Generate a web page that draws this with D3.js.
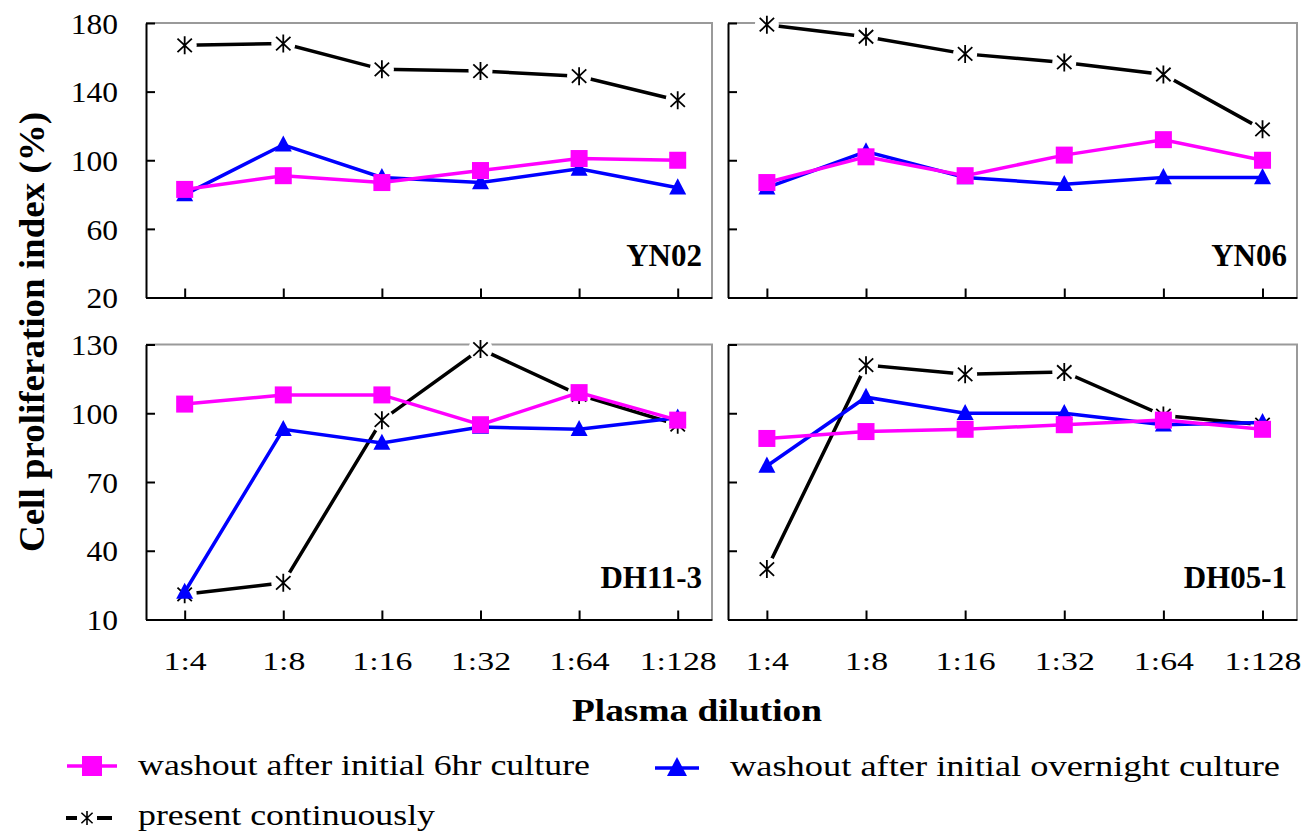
<!DOCTYPE html>
<html><head><meta charset="utf-8">
<script src="https://cdn.jsdelivr.net/npm/d3@7"></script>
<style>
body{margin:0;background:#fff}
svg text{font-family:"Liberation Serif","DejaVu Serif","Times New Roman",serif !important;}
</style>
</head><body>
<svg id="chart" width="1309" height="831"></svg>
<script>
// ---- data ----
const dilutions = ["1:4", "1:8", "1:16", "1:32", "1:64", "1:128"];
const topTicks = [20, 60, 100, 140, 180];
const bottomTicks = [10, 40, 70, 100, 130];
const seriesNames = ["washout after initial 6hr culture", "washout after initial overnight  culture", "present continuously"];

const yn02_6hr        = [83, 91, 87, 94, 101, 100];
const yn02_overnight  = [80, 109, 90, 87, 95, 84];
const yn02_continuous = [167, 168, 153, 152, 149, 135];

const yn06_6hr        = [87, 102, 91, 103, 112, 100];
const yn06_overnight  = [84, 105, 90, 86, 90, 90];
const yn06_continuous = [179, 172, 162, 157, 150, 118];

const dh113_6hr        = [104, 108, 108, 95, 109, 97];
const dh113_overnight  = [22, 93, 87, 94, 93, 98];
const dh113_continuous = [21, 26, 97, 128, 108, 95];

const dh051_6hr        = [89, 92, 93, 95, 97, 93];
const dh051_overnight  = [77, 107, 100, 100, 95, 96];
const dh051_continuous = [32, 121, 117, 118, 99, 95];

// ---- layout ----
const panels = [
  {name: "YN02",   x0: 146, x1: 712,  y0: 23,    y1: 297.5, dom: [20, 180], ticks: topTicks,    ylab: true,  xlab: false,
   six: yn02_6hr, ovn: yn02_overnight, cont: yn02_continuous},
  {name: "YN06",   x0: 728, x1: 1297, y0: 23,    y1: 297.5, dom: [20, 180], ticks: topTicks,    ylab: false, xlab: false,
   six: yn06_6hr, ovn: yn06_overnight, cont: yn06_continuous},
  {name: "DH11-3", x0: 146, x1: 712,  y0: 344.5, y1: 619.5, dom: [10, 130], ticks: bottomTicks, ylab: true,  xlab: true,
   six: dh113_6hr, ovn: dh113_overnight, cont: dh113_continuous},
  {name: "DH05-1", x0: 728, x1: 1297, y0: 344.5, y1: 619.5, dom: [10, 130], ticks: bottomTicks, ylab: false, xlab: true,
   six: dh051_6hr, ovn: dh051_overnight, cont: dh051_continuous}
];

const MAG = "#ff00ff", BLUE = "#0000ff", BLK = "#000000";
const svg = d3.select("#chart");

const starPath = s => `M0,${-s} V${s} M${-s*0.8},${-s*0.75} L${s*0.8},${s*0.75} M${-s*0.8},${s*0.75} L${s*0.8},${-s*0.75}`;
const triPath = s => `M0,${-s*1.1} L${s},${s*0.8} L${-s},${s*0.8} Z`;

// widen glyphs of a text element by a factor
function widen(sel, f) {
  sel.each(function () {
    const len = this.getComputedTextLength();
    if (len > 0) d3.select(this).attr("textLength", len * f).attr("lengthAdjust", "spacingAndGlyphs");
  });
}

panels.forEach(p => {
  const g = svg.append("g");
  const x = d3.scalePoint().domain(dilutions).range([p.x0, p.x1]).padding(0.37).align(0.53);
  const y = d3.scaleLinear().domain(p.dom).range([p.y1, p.y0]);

  // gray top/right frame
  g.append("path")
    .attr("d", `M${p.x0},${p.y0} H${p.x1} V${p.y1}`)
    .attr("fill", "none").attr("stroke", "#9a9a9a").attr("stroke-width", 2);

  // left axis
  const ya = g.append("g").attr("transform", `translate(${p.x0},0)`)
    .call(d3.axisLeft(y).tickValues(p.ticks).tickSize(-9).tickSizeOuter(0).tickPadding(28)
      .tickFormat(d => p.ylab ? d : ""));
  ya.attr("font-family", null);
  ya.select(".domain").attr("stroke", BLK).attr("stroke-width", 2);
  ya.selectAll(".tick line").attr("stroke", BLK).attr("stroke-width", 2);
  ya.selectAll("text").style("font-size", "30px").attr("fill", "#000").attr("dy", "0.34em");
  widen(ya.selectAll("text"), 1.05);

  // bottom axis
  const xa = g.append("g").attr("transform", `translate(0,${p.y1})`)
    .call(d3.axisBottom(x).tickSize(-9).tickSizeOuter(0).tickPadding(32)
      .tickFormat(d => p.xlab ? d : ""));
  xa.attr("font-family", null);
  xa.select(".domain").attr("stroke", BLK).attr("stroke-width", 2);
  xa.selectAll(".tick line").attr("stroke", BLK).attr("stroke-width", 2);
  xa.selectAll("text").style("font-size", "26px").attr("fill", "#000");
  widen(xa.selectAll("text"), 1.3);

  const line = d3.line().x((d, i) => x(dilutions[i])).y(d => y(d));

  // continuous (black) line with haloed stars
  g.append("path").datum(p.cont).attr("d", line)
    .attr("fill", "none").attr("stroke", BLK).attr("stroke-width", 3.5);
  g.selectAll(".halo").data(p.cont).enter().append("circle")
    .attr("cx", (d, i) => x(dilutions[i])).attr("cy", d => y(d)).attr("r", 12).attr("fill", "#fff");
  g.selectAll(".star").data(p.cont).enter().append("path")
    .attr("transform", (d, i) => `translate(${x(dilutions[i])},${y(d)})`)
    .attr("d", starPath(9)).attr("stroke", BLK).attr("stroke-width", 1.8).attr("fill", "none");

  // overnight (blue)
  g.append("path").datum(p.ovn).attr("d", line)
    .attr("fill", "none").attr("stroke", BLUE).attr("stroke-width", 3.5);
  g.selectAll(".tri").data(p.ovn).enter().append("path")
    .attr("transform", (d, i) => `translate(${x(dilutions[i])},${y(d)})`)
    .attr("d", triPath(8.5)).attr("fill", BLUE);

  // 6hr (magenta)
  g.append("path").datum(p.six).attr("d", line)
    .attr("fill", "none").attr("stroke", MAG).attr("stroke-width", 3.5);
  g.selectAll(".sq").data(p.six).enter().append("rect")
    .attr("x", (d, i) => x(dilutions[i]) - 8.5).attr("y", d => y(d) - 8.5)
    .attr("width", 17).attr("height", 17).attr("fill", MAG);

  // panel label
  g.append("text").attr("x", p.x1 - 10).attr("y", p.y1 - 32)
    .attr("text-anchor", "end").style("font-weight", "bold")
    .style("font-size", "31px").text(p.name);
});

// axis titles
svg.append("text")
  .attr("transform", "translate(44,332) rotate(-90)")
  .attr("text-anchor", "middle").style("font-weight", "bold")
  .style("font-size", "36px").attr("textLength", 440).attr("lengthAdjust", "spacingAndGlyphs")
  .text("Cell proliferation index (%)");

svg.append("text")
  .attr("x", 572).attr("y", 721)
  .style("font-weight", "bold")
  .style("font-size", "32px").attr("textLength", 250).attr("lengthAdjust", "spacingAndGlyphs")
  .text("Plasma dilution");

// legend
const lg = svg.append("g");
lg.append("line").attr("x1", 67).attr("x2", 117).attr("y1", 766).attr("y2", 766).attr("stroke", MAG).attr("stroke-width", 3.5);
lg.append("rect").attr("x", 82).attr("y", 756).attr("width", 20).attr("height", 20).attr("fill", MAG);
lg.append("text").attr("x", 138).attr("y", 775).style("font-size", "29px")
  .attr("textLength", 452).attr("lengthAdjust", "spacingAndGlyphs").text(seriesNames[0]);

lg.append("line").attr("x1", 655).attr("x2", 699).attr("y1", 768).attr("y2", 768).attr("stroke", BLUE).attr("stroke-width", 3.5);
lg.append("path").attr("transform", "translate(677,768)").attr("d", triPath(10)).attr("fill", BLUE);
lg.append("text").attr("x", 730).attr("y", 776).style("font-size", "29px")
  .attr("textLength", 550).attr("lengthAdjust", "spacingAndGlyphs").text(seriesNames[1]);

lg.append("line").attr("x1", 66).attr("x2", 77).attr("y1", 818).attr("y2", 818).attr("stroke", BLK).attr("stroke-width", 4);
lg.append("line").attr("x1", 97).attr("x2", 112).attr("y1", 818).attr("y2", 818).attr("stroke", BLK).attr("stroke-width", 4);
lg.append("path").attr("transform", "translate(87,818)").attr("d", starPath(7)).attr("stroke", BLK).attr("stroke-width", 1.6).attr("fill", "none");
lg.append("text").attr("x", 138).attr("y", 825).style("font-size", "29px")
  .attr("textLength", 297).attr("lengthAdjust", "spacingAndGlyphs").text(seriesNames[2]);
</script>
</body></html>
